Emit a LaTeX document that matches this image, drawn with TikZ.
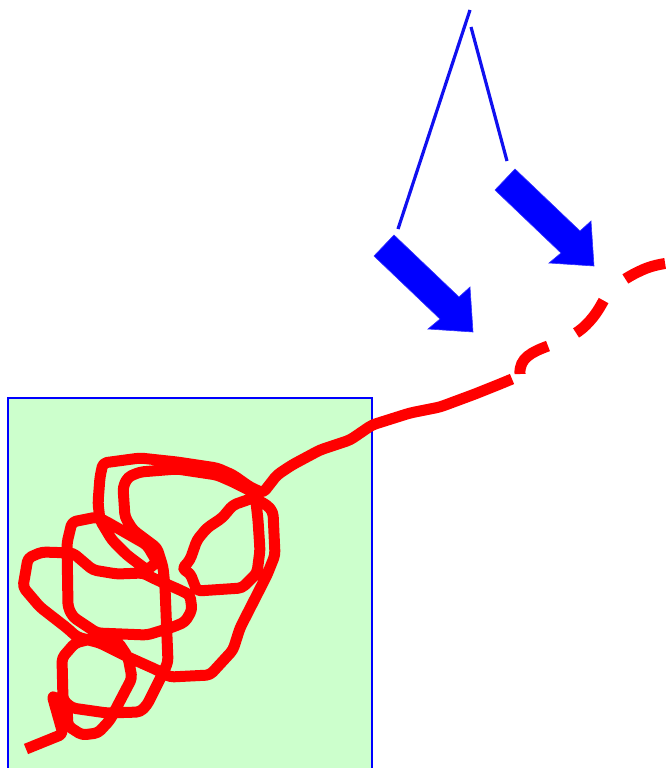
\documentclass[tikz,border=0pt]{standalone}
\usepackage{xcolor}
\definecolor{boxgreen}{HTML}{CCFFCC}
\definecolor{linkblue}{HTML}{1010F0}
\tikzset{
  scribble/.style={red, line width=11pt, line join=round, rounded corners=4pt},
  blockarrow/.style={fill=blue, draw=blue!80!white, line width=0.6pt}
}
\begin{document}
\begin{tikzpicture}[x=1pt,y=-1pt]
	\useasboundingbox (0,0) rectangle (666,768);
	
	% Box
	\draw[boxgreen, fill=boxgreen] (8,398) rectangle (372,780);
	\draw[blue, line width=2.8pt] (8,780) -- (8,398) -- (372,398) -- (372,780);
	
	% Lines
	\draw[linkblue, line width=3.2pt] (470,10) -- (398,229);
	\draw[linkblue, line width=3.2pt] (471,27) -- (507,161);
	
	% Arrows
	\foreach \dx/\dy in {0/0, 121/-66}
	  \filldraw[blockarrow, shift={(\dx,\dy)}]
	    (374,256) -- (394,235) -- (459,297) -- (470,287)
	    -- (473,332) -- (428,329) -- (440,319) -- cycle;
	
	% Tangle
	\draw[scribble]
	(26,749) -- (63,734) -- (52,695) -- (67,708) -- (68,726) -- (82,735)
	-- (98,733) -- (110,720) -- (132,678) -- (128,657) -- (118,642)
	-- (95,638) -- (75,643) -- (62,658) -- (63,700) -- (72,708)
	-- (107,713) -- (140,712) -- (147,705) -- (163,673) -- (168,662)
	-- (165,587) -- (163,567) -- (157,548) -- (133,530) -- (125,517)
	-- (123,487) -- (128,477) -- (140,472) -- (177,469) -- (217,475)
	-- (233,482) -- (255,493) -- (258,520) -- (260,550) -- (257,573)
	-- (242,588) -- (197,591) -- (190,573) -- (182,569) -- (190,560)
	-- (197,540) -- (207,528) -- (222,518) -- (233,505) -- (253,498)
	-- (267,505) -- (273,512) -- (275,555) -- (267,575) -- (240,628)
	-- (233,650) -- (210,675) -- (170,677) -- (157,670) -- (128,657)
	-- (100,643) -- (77,637) -- (67,628) -- (40,607) -- (23,587)
	-- (28,558) -- (42,552) -- (73,553) -- (93,570) -- (117,574)
	-- (143,573) -- (157,580) -- (180,590) -- (190,595) -- (192,610)
	-- (185,622) -- (173,627) -- (147,635) -- (97,633) -- (73,617)
	-- (68,607) -- (67,543) -- (72,522) -- (97,517) -- (107,522)
	-- (147,545) -- (157,562) -- (147,570) -- (127,555) -- (112,540)
	-- (100,520) -- (98,503) -- (100,477) -- (103,463) -- (140,458)
	-- (177,462) -- (217,468) -- (233,475) -- (250,487) -- (263,493)
	-- (277,475) -- (292,465) -- (320,450) -- (350,440) -- (372,425)
	-- (410,413) -- (440,407) -- (475,394) -- (500,384) -- (512,379);
	
	% Dashed part
	\draw[red, line width=11pt, dash pattern=on 43pt off 31pt]
	(520,374) .. controls (519,358) and (532,352) .. (548,346)
	.. controls (565,339) and (576,335) .. (586,325)
	.. controls (596,315) and (600,307) .. (605,298)
	.. controls (612,287) and (625,278) .. (640,271)
	.. controls (650,266) and (660,264) .. (675,262);
	
\end{tikzpicture}
\end{document}
